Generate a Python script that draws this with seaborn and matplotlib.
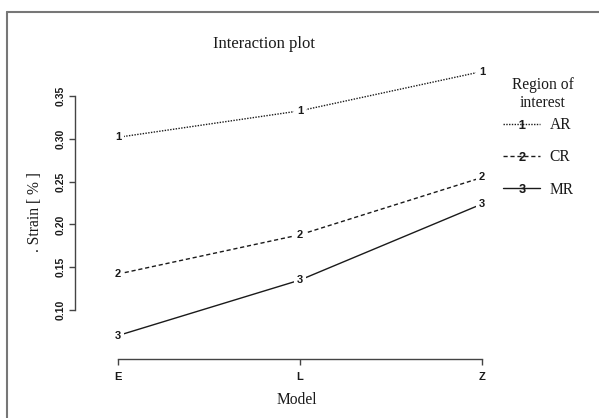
import numpy as np
import pandas as pd
import matplotlib
matplotlib.use("Agg")
import matplotlib.pyplot as plt
from matplotlib.lines import Line2D
import seaborn as sns

# ---- data ----
models = ["E", "L", "Z"]
regions = ["AR", "CR", "MR"]
region_codes = ["1", "2", "3"]
strain_AR = [0.302, 0.333, 0.379]
strain_CR = [0.142, 0.188, 0.255]
strain_MR = [0.070, 0.135, 0.224]
y_ticks = [0.10, 0.15, 0.20, 0.25, 0.30, 0.35]

series = {"AR": strain_AR, "CR": strain_CR, "MR": strain_MR}
rows = []
for r in regions:
    for i, m in enumerate(models):
        rows.append({"Model": m, "pos": i, "Region": r, "Strain": series[r][i]})
df = pd.DataFrame(rows)

sns.set_theme(style="white")
plt.rcParams["mathtext.fontset"] = "custom"
plt.rcParams["mathtext.bf"] = "Liberation Sans:bold"
plt.rcParams["mathtext.rm"] = "Liberation Sans:bold"

serif = "Liberation Serif"
sans = "Liberation Sans"
ink = "#1a1a1a"

fig = plt.figure(figsize=(5.99, 4.18), dpi=100)
fig.patch.set_facecolor("white")
ax = fig.add_axes([0.1726, 0.1718, 0.6564, 0.6825])
ax.set_facecolor("white")

dash_map = {"AR": (1, 1), "CR": (3, 2), "MR": ""}
sns.lineplot(data=df, x="pos", y="Strain", hue="Region", style="Region",
             palette={r: ink for r in regions}, dashes=dash_map,
             linewidth=1.0, legend=False, ax=ax, zorder=2)

for r, code in zip(regions, region_codes):
    vals = series[r]
    for i in range(len(models)):
        ax.text(i, vals[i], code, ha="center", va="center", fontsize=8,
                fontweight="bold", family=sans, color=ink, zorder=5,
                bbox=dict(boxstyle="square,pad=0.25", fc="white", ec="none"))

# spines first (set_position resets ticks)
for s in ["top", "right"]:
    ax.spines[s].set_visible(False)
ax.spines["left"].set_position(("outward", 20.2))
ax.spines["bottom"].set_position(("outward", 9.4))

ax.set_xlim(-0.08, 2.08)
ax.set_ylim(0.0576, 0.3914)
ax.spines["left"].set_bounds(0.10, 0.35)
ax.spines["bottom"].set_bounds(0, 2)
for s in ["left", "bottom"]:
    ax.spines[s].set_color("#444444")
    ax.spines[s].set_linewidth(1.0)

ax.set_xticks(range(len(models)))
ax.set_xticklabels(models, family=sans, fontweight="bold", fontsize=8, color=ink)
ax.set_yticks(y_ticks)
ax.set_yticklabels([f"{t:.2f}" for t in y_ticks], rotation=90, va="center",
                   family=sans, fontweight="bold", fontsize=7.5, color=ink)
ax.tick_params(axis="both", direction="out", length=4, width=1.0,
               color="#444444", left=True, bottom=True)
ax.tick_params(axis="y", pad=3)
ax.tick_params(axis="x", pad=5)
ax.set_xlabel("")
ax.set_ylabel("")

fig.text(0.44, 0.895, "Interaction plot", family=serif, fontsize=12,
         ha="center", va="center", color=ink)
fig.text(0.058, 0.493, ". Strain [ % ]", family=serif, fontsize=11.2,
         rotation=90, ha="center", va="center", color=ink)
fig.text(0.496, 0.043, "Model", family=serif, fontsize=11.2,
         ha="center", va="center", color=ink)

# legend title as separate text
fig.text(543 / 599, 1 - 94 / 418, "Region of\ninterest", family=serif,
         fontsize=11.2, ha="center", va="center", ma="center", color=ink,
         linespacing=1.15)

handles = []
for r, code in zip(regions, region_codes):
    ls = (0, dash_map[r]) if dash_map[r] else "-"
    handles.append(Line2D([], [], color=ink, lw=1.0, linestyle=ls,
                          marker=r"$\mathbf{%s}$" % code, markersize=6.5,
                          markeredgewidth=0))
leg = fig.legend(handles, regions, loc="upper left",
                 bbox_to_anchor=(503 / 599, 1 - 117 / 418),
                 frameon=False,
                 prop=dict(family=serif, size=11.2),
                 borderpad=0, borderaxespad=0, handlelength=2.4,
                 handletextpad=0.6, labelspacing=1.05, numpoints=1)
for t in leg.get_texts():
    t.set_color(ink)

# partial outer frame (top and left)
border = "#777777"
fig.add_artist(Line2D([7 / 599, 1.0], [1 - 12 / 418, 1 - 12 / 418],
                      transform=fig.transFigure, color=border, lw=1.5))
fig.add_artist(Line2D([7 / 599, 7 / 599], [0.0, 1 - 12 / 418],
                      transform=fig.transFigure, color=border, lw=1.5))

fig.savefig("out.png", dpi=100, facecolor="white")
